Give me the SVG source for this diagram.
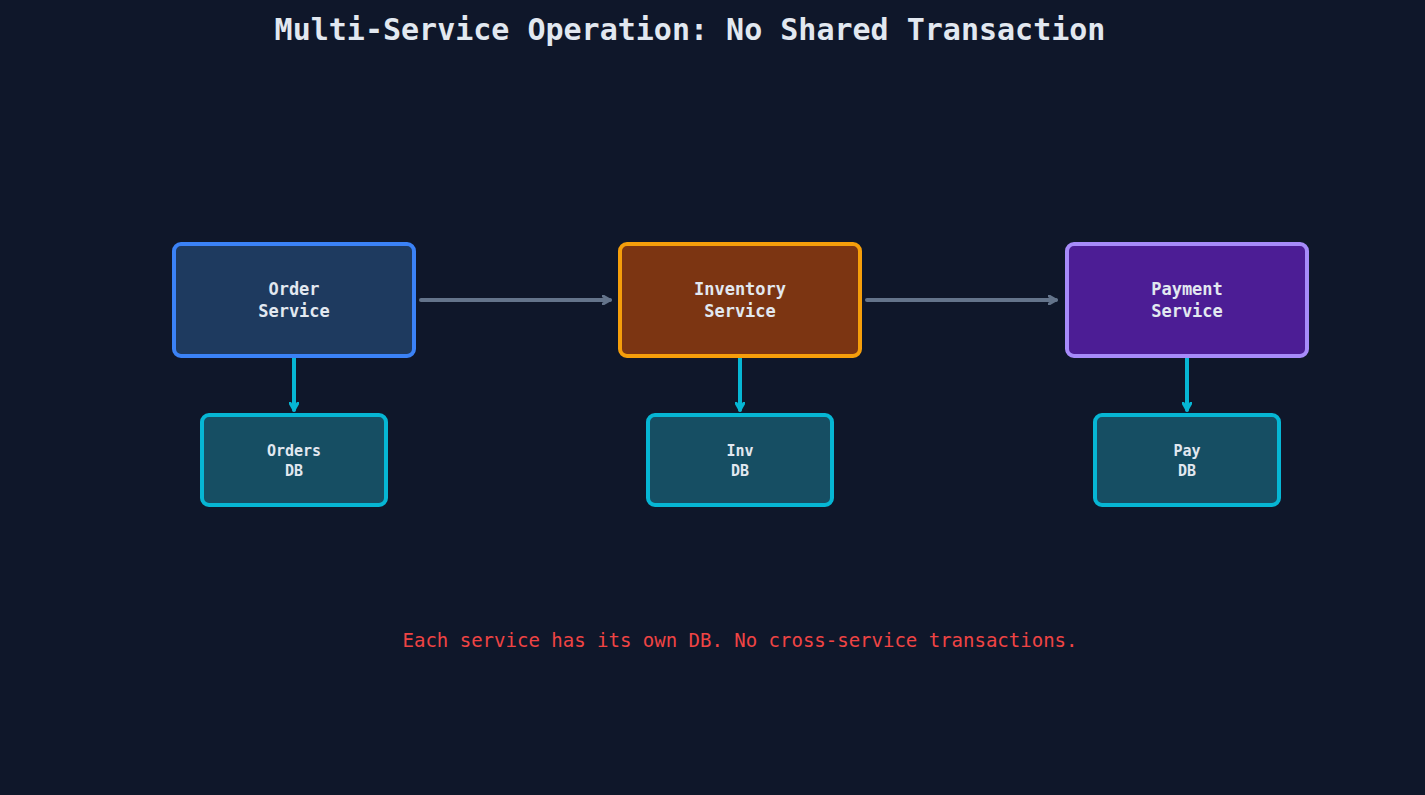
<svg xmlns="http://www.w3.org/2000/svg" width="1425" height="795" viewBox="0 0 1425 795">
<style>
.t{font-family:"DejaVu Sans Mono",monospace;font-weight:bold;fill:#e2e8f0;text-anchor:middle}
.s{font-size:17px}.d{font-size:15px}
.db{fill:#164e63;stroke:#06b6d4;stroke-width:4}
</style>
<defs>
<marker id="ag" markerWidth="10" markerHeight="10" refX="8" refY="5" orient="auto" markerUnits="userSpaceOnUse"><path d="M1,1 L8,5 L1,9" fill="none" stroke="#64748b" stroke-width="3" stroke-linecap="round" stroke-linejoin="round"/></marker>
<marker id="ac" markerWidth="10" markerHeight="10" refX="8" refY="5" orient="auto" markerUnits="userSpaceOnUse"><path d="M1,1 L8,5 L1,9" fill="none" stroke="#06b6d4" stroke-width="3" stroke-linecap="round" stroke-linejoin="round"/></marker>
</defs>
<rect width="1425" height="795" fill="#0f172a"/>
<text class="t" x="690" y="40" font-size="30">Multi-Service Operation: No Shared Transaction</text>
<g id="connectors" stroke-width="4" stroke-linecap="round">
<line x1="421" y1="300" x2="610" y2="300" stroke="#64748b" marker-end="url(#ag)"/>
<line x1="867" y1="300" x2="1056" y2="300" stroke="#64748b" marker-end="url(#ag)"/>
<line x1="294" y1="357" x2="294" y2="410" stroke="#06b6d4" marker-end="url(#ac)"/>
<line x1="740" y1="357" x2="740" y2="410" stroke="#06b6d4" marker-end="url(#ac)"/>
<line x1="1187" y1="357" x2="1187" y2="410" stroke="#06b6d4" marker-end="url(#ac)"/>
</g>
<g id="order"><rect x="174" y="244" width="240" height="112" rx="7" fill="#1e3a5f" stroke="#3b82f6" stroke-width="4"/><text class="t s" x="294" y="295">Order</text><text class="t s" x="294" y="317">Service</text></g>
<g id="inventory"><rect x="620" y="244" width="240" height="112" rx="7" fill="#7c3512" stroke="#f59e0b" stroke-width="4"/><text class="t s" x="740" y="295">Inventory</text><text class="t s" x="740" y="317">Service</text></g>
<g id="payment"><rect x="1067" y="244" width="240" height="112" rx="7" fill="#4c1d95" stroke="#a78bfa" stroke-width="4"/><text class="t s" x="1187" y="295">Payment</text><text class="t s" x="1187" y="317">Service</text></g>
<g id="ordersdb"><rect class="db" x="202" y="415" width="184" height="90" rx="7"/><text class="t d" x="294" y="456">Orders</text><text class="t d" x="294" y="476">DB</text></g>
<g id="invdb"><rect class="db" x="648" y="415" width="184" height="90" rx="7"/><text class="t d" x="740" y="456">Inv</text><text class="t d" x="740" y="476">DB</text></g>
<g id="paydb"><rect class="db" x="1095" y="415" width="184" height="90" rx="7"/><text class="t d" x="1187" y="456">Pay</text><text class="t d" x="1187" y="476">DB</text></g>
<text x="740" y="647" font-family="DejaVu Sans Mono,monospace" font-size="19" fill="#ef4444" text-anchor="middle">Each service has its own DB. No cross-service transactions.</text>
</svg>
